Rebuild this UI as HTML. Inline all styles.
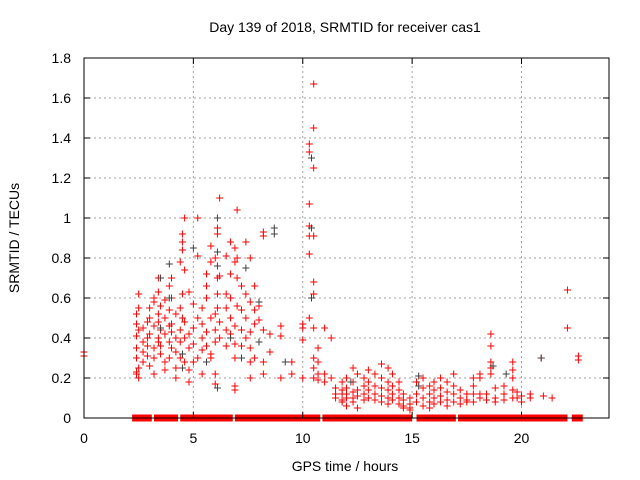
<!DOCTYPE html>
<html><head><meta charset="utf-8"><style>
html,body{margin:0;padding:0;background:#fff}
svg{display:block;font-family:"Liberation Sans",sans-serif}
</style></head><body>
<svg id="chart" width="640" height="480">
<text x="345" y="32" font-size="14" text-anchor="middle">Day 139 of 2018, SRMTID for receiver cas1</text>
<text x="345" y="471" font-size="14" text-anchor="middle">GPS time / hours</text>
<text x="19" y="238" font-size="14" text-anchor="middle" transform="rotate(-90 19 238)">SRMTID / TECUs</text>
<g id="grid"></g>
<g id="zeros"></g>
<g id="red"></g>
<g id="black"></g>
<rect x="84" y="58" width="525" height="360" fill="none" stroke="#000" stroke-width="1"/>
<g id="axes"></g>
</svg>
<script>
const xTicks=[0,5,10,15,20];
const yTicks=[0,0.2,0.4,0.6,0.8,1,1.2,1.4,1.6,1.8];
const yTickLabels=["0","0.2","0.4","0.6","0.8","1","1.2","1.4","1.6","1.8"];
const zeroSegments=[[2.2,3.1],[3.2,4.3],[4.4,6.8],[6.9,10.8],[10.9,15.0],[15.2,17.0],[17.1,22.1],[22.3,22.8]];
const redGroups=[
[0,[.33,.31]],
[2.4,[.23,.22,.41,.47,.52,.35,.30]],[2.5,[.20,.25,.55,.62,.44]],[2.7,[.33,.38,.45,.28]],
[2.9,[.40,.48,.36,.31]],[3.0,[.50,.55,.42,.26]],[3.2,[.35,.46,.58,.60,.30,.22]],
[3.4,[.40,.52,.48,.38,.70,.63]],[3.5,[.44,.36,.56,.32]],[3.7,[.42,.50,.59,.28,.24]],
[3.9,[.38,.46,.54,.66,.30]],[4.0,[.43,.35,.47,.70,.60]],[4.2,[.33,.40,.52,.20,.25]],
[4.4,[.38,.44,.55,.78,.30]],[4.5,[.92,.88,.84,.62,.50]],[4.6,[1.0,.74,.48,.40,.28]],
[4.8,[.63,.42,.35,.24,.18]],[5.0,[.57,.37,.45,.28]],[5.2,[1.0,.81,.50,.30]],
[5.4,[.55,.47,.40,.34,.22]],[5.6,[.72,.66,.43,.36,.60]],[5.8,[.86,.78,.50,.30,.32]],
[6.0,[.80,.52,.44,.38,.22,.17]],[6.1,[.95,.92,.70,.62,.55]],[6.2,[1.1,.71,.48,.40]],
[6.5,[.62,.55,.81,.44,.36]],[6.7,[.88,.72,.60,.50,.42]],[6.9,[.85,.78,.46,.37,.30,.16,.14]],
[7.0,[1.04,.80,.70,.56]],[7.2,[.66,.54,.44,.36]],[7.4,[.88,.62,.50,.40]],
[7.6,[.80,.58,.43,.35,.28,.20]],[7.8,[.66,.54,.47,.30]],[8.0,[.56,.49,.38]],
[8.2,[.93,.91,.44,.28,.22]],[8.5,[.42,.33]],[9.0,[.46,.41,.20]],[9.5,[.28,.22]],
[10.0,[.47,.45,.39,.20]],[10.3,[1.37,1.33,1.07,.96,.91,.82,.50]],
[10.5,[1.67,1.45,1.25,.91,.68,.62,.45,.30,.25,.20]],[10.7,[.35,.28,.22,.19]],
[11.0,[.45,.22,.18]],[11.3,[.40,.20]],[11.5,[.15,.12,.10]],[11.8,[.18,.14,.09,.08,.12]],
[12.0,[.20,.15,.10,.06,.12]],[12.3,[.25,.18,.13,.08,.10]],[12.5,[.22,.14,.11,.05]],
[12.8,[.20,.16,.12,.09]],[13.0,[.24,.18,.14,.10]],[13.3,[.22,.16,.12,.09]],
[13.6,[.27,.20,.15,.11,.08]],[13.9,[.25,.18,.14,.10,.07]],[14.1,[.22,.16,.12,.09]],
[14.4,[.18,.14,.10,.07]],[14.6,[.12,.09,.06,.05]],[14.9,[.10,.07,.05,.04]],
[15.2,[.18,.12,.08]],[15.5,[.20,.15,.10,.06]],[15.8,[.16,.12,.08,.05]],
[16.0,[.18,.14,.10,.07]],[16.3,[.20,.15,.11,.08]],[16.6,[.18,.13,.09,.06]],
[16.9,[.22,.16,.12,.08]],[17.2,[.14,.10,.07]],[17.5,[.12,.09,.08]],
[17.8,[.20,.16,.12,.08]],[18.1,[.22,.20,.12,.10]],[18.4,[.12,.09]],
[18.6,[.42,.36,.28,.25,.22]],[18.8,[.15,.10,.08]],[19.2,[.16,.12,.09]],
[19.6,[.28,.24,.20,.14,.10]],[19.8,[.13,.10]],[20.0,[.08,.11]],[20.4,[.12,.10]],
[20.9,[.30]],[21.0,[.11]],[21.4,[.10]],[22.1,[.64,.45]],[22.6,[.31,.29]]
];
const blackGroups=[
[3.5,[.70,.45]],[3.9,[.77,.60]],[4.5,[.32,.25]],[5.0,[.85]],[5.6,[.28]],
[6.1,[1.0,.83,.76,.15]],[6.7,[.40]],[7.2,[.30]],[7.4,[.75]],[8.0,[.58,.38]],
[8.7,[.95,.92]],[9.2,[.28]],[10.4,[1.30,.95,.60]],[12.2,[.18]],[15.3,[.21,.16]],
[18.7,[.26]],[19.3,[.22]],[20.9,[.30]]
];
const NS="http://www.w3.org/2000/svg";
const X0=84,X1=609,Y0=418,Y1=58,XMAX=24,YMAX=1.8;
function sx(t){return X0+(X1-X0)*t/XMAX;}
function sy(v){return Y0-(Y0-Y1)*v/YMAX;}
function mk(tag,attrs,parent){const e=document.createElementNS(NS,tag);for(const k in attrs)e.setAttribute(k,attrs[k]);parent.appendChild(e);return e;}
const grid=document.getElementById('grid'),axes=document.getElementById('axes');
xTicks.forEach((t,i)=>{
  const x=sx(t);
  if(t>0){const g=mk('line',{x1:x,x2:x,y1:Y0,y2:Y1,stroke:'#a0a0a0','stroke-dasharray':'2,3'},grid);
  
  }
  const tk=mk('path',{d:`M${x},${Y0}v-6M${x},${Y1}v6`,stroke:'#000'},axes);
  
  
  const l=mk('text',{x:x,y:443,'font-size':14,'text-anchor':'middle'},axes);l.textContent=String(t);
  
  
});
yTicks.forEach((v,i)=>{
  const y=sy(v);
  if(v>0&&v<YMAX){const g=mk('line',{x1:X0,x2:X1,y1:y,y2:y,stroke:'#a0a0a0','stroke-dasharray':'2,3'},grid);
  
  }
  const tk=mk('path',{d:`M${X0},${y}h6M${X1},${y}h-6`,stroke:'#000'},axes);
  
  
  const l=mk('text',{x:71,y:y+5,'font-size':14,'text-anchor':'end'},axes);l.textContent=yTickLabels[i];
  
  
});
function cross(t,v,color,parent,name){
  const x=sx(t),y=sy(v);
  const p=mk('path',{d:`M${x-3.5},${y}h7M${x},${y-3.5}v7`,stroke:color,'stroke-width':1},parent);
  
  
}
const zg=document.getElementById('zeros');
zeroSegments.forEach(s=>{
  const r=mk('rect',{x:sx(s[0]),y:sy(0)-3.5,width:sx(s[1])-sx(s[0]),height:7,fill:'#ff0000'},zg);
  
  
});
const rg=document.getElementById('red');
redGroups.forEach(g=>g[1].forEach(v=>cross(g[0],v,'#ff0000',rg,'red-point')));
const bg=document.getElementById('black');
blackGroups.forEach(g=>g[1].forEach(v=>cross(g[0],v,'#404040',bg,'black-point')));
</script>
</body></html>
